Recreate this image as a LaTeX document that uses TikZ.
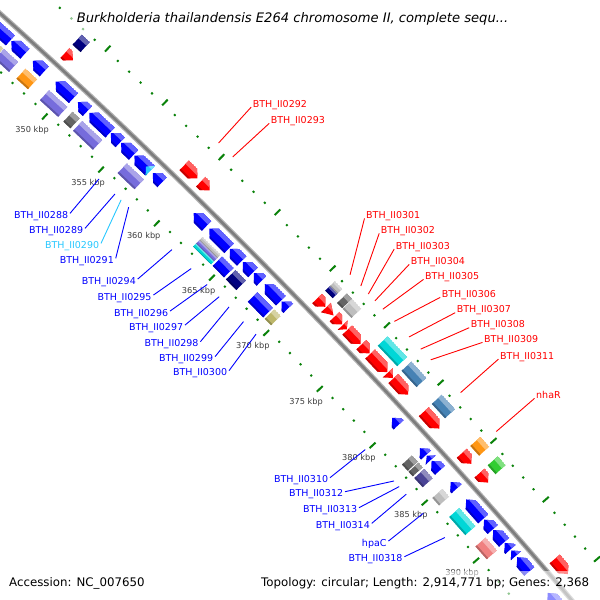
\documentclass[tikz,border=0pt]{standalone}
\usepackage{fontspec}
\setmainfont{DejaVu Sans}
\definecolor{cdsred}{RGB}{255,0,0}
\definecolor{cdsblue}{RGB}{0,0,255}
\definecolor{coglav}{RGB}{118,108,220}
\definecolor{cogorange}{RGB}{255,150,20}
\definecolor{cogdgray}{RGB}{100,100,100}
\definecolor{coglgray}{RGB}{190,190,190}
\definecolor{cognavy}{RGB}{0,0,128}
\definecolor{cogcyan}{RGB}{0,215,215}
\definecolor{cogsteel}{RGB}{70,130,180}
\definecolor{coggreen}{RGB}{50,205,50}
\definecolor{cogkhaki}{RGB}{189,183,107}
\definecolor{cogpink}{RGB}{240,128,128}
\definecolor{cogslate}{RGB}{75,68,150}
\definecolor{tickgreen}{RGB}{10,130,10}
\definecolor{labcyan}{RGB}{40,200,255}
\definecolor{bbedge}{RGB}{178,178,178}
\definecolor{bbcore}{RGB}{125,125,125}
\definecolor{ticktext}{RGB}{60,60,60}

\newcommand{\kSet}[2]{\pgfmathsetmacro{#1}{44.92-0.149*(#2-365)}}
\newcommand{\kShade}[3]{%
  \pgfmathsetmacro\kTA{\kTa+0.05}%
  \pgfmathsetmacro\kTB{\kTb-0.05}%
  \pgfmathsetmacro\kRl{#2-0.36*(#2-#1)}%
  \pgfmathsetmacro\kRd{#1+0.14*(#2-#1)}%
  \fill[#3] (\kTA:#1pt) -- (\kTB:#1pt) -- (\kTB:#2pt) -- (\kTA:#2pt) -- cycle;
  \fill[#3!62!white] (\kTA:\kRl pt) -- (\kTB:\kRl pt) -- (\kTB:#2pt) -- (\kTA:#2pt) -- cycle;
  \fill[#3!78!black] (\kTA:#1pt) -- (\kTB:#1pt) -- (\kTB:\kRd pt) -- (\kTA:\kRd pt) -- cycle;
}
\newcommand{\gbox}[5]{%
  \kSet\kTa{#1}\kSet\kTb{#2}%
  \begin{scope}
    \clip (\kTa:#3pt) -- (\kTb:#3pt) -- (\kTb:#4pt) -- (\kTa:#4pt) -- cycle;
    \kShade{#3}{#4}{#5}%
  \end{scope}}
\newcommand{\garf}[5]{%
  \kSet\kTa{#1}\kSet\kTb{#2}%
  \pgfmathsetmacro\kTh{min(\kTa,\kTb+0.067)}%
  \pgfmathsetmacro\kRm{(#3+#4)/2}%
  \begin{scope}
    \clip (\kTa:#3pt) -- (\kTh:#3pt) -- (\kTb:\kRm pt) -- (\kTh:#4pt) -- (\kTa:#4pt) -- cycle;
    \kShade{#3}{#4}{#5}%
  \end{scope}}
\newcommand{\garr}[5]{%
  \kSet\kTa{#1}\kSet\kTb{#2}%
  \pgfmathsetmacro\kTh{max(\kTb,\kTa-0.067)}%
  \pgfmathsetmacro\kRm{(#3+#4)/2}%
  \begin{scope}
    \clip (\kTa:\kRm pt) -- (\kTh:#4pt) -- (\kTb:#4pt) -- (\kTb:#3pt) -- (\kTh:#3pt) -- cycle;
    \kShade{#3}{#4}{#5}%
  \end{scope}}
\newcommand{\gtrif}[5]{%
  \kSet\kTa{#1}\kSet\kTb{#2}%
  \pgfmathsetmacro\kRm{(#3+#4)/2}%
  \begin{scope}
    \clip (\kTa:#3pt) -- (\kTb:\kRm pt) -- (\kTa:#4pt) -- cycle;
    \kShade{#3}{#4}{#5}%
  \end{scope}}
\newcommand{\gtrir}[5]{%
  \kSet\kTa{#1}\kSet\kTb{#2}%
  \pgfmathsetmacro\kRm{(#3+#4)/2}%
  \begin{scope}
    \clip (\kTa:\kRm pt) -- (\kTb:#4pt) -- (\kTb:#3pt) -- cycle;
    \kShade{#3}{#4}{#5}%
  \end{scope}}
\newcommand{\fwdg}[2]{\garf{#1}{#2}{6007.5}{6021}{cdsred}}
\newcommand{\fwdt}[2]{\gtrif{#1}{#2}{6007.5}{6021}{cdsred}}
\newcommand{\revg}[2]{\garr{#1}{#2}{5980}{5993.5}{cdsblue}}
\newcommand{\revt}[3][cdsblue]{\gtrir{#2}{#3}{5980}{5993.5}{#1}}
\newcommand{\ocog}[3]{\gbox{#1}{#2}{6025.5}{6039}{#3}}
\newcommand{\icog}[3]{\gbox{#1}{#2}{5962.5}{5976}{#3}}
\newcommand{\lend}[3]{\kSet\kTe{#2}\coordinate (#1) at (\kTe:#3pt);}

\tikzset{
  tickmin/.style={draw=tickgreen, line width=2pt},
  tickmaj/.style={draw=tickgreen, line width=2pt},
  ticklab/.style={font={\fontsize{8.2}{9}\selectfont}, text=ticktext, inner sep=0pt},
  labr/.style={font={\fontsize{9.5}{11}\selectfont}, text=cdsred, inner sep=0pt, anchor=base west},
  labb/.style={font={\fontsize{9.5}{11}\selectfont}, text=cdsblue, inner sep=0pt, anchor=base east},
  labc/.style={labb, text=labcyan},
  leadr/.style={draw=cdsred, line width=0.9pt},
  leadb/.style={draw=cdsblue, line width=0.9pt},
  leadc/.style={draw=labcyan, line width=0.9pt},
  fade/.style={fill=white, fill opacity=0.55},
  infotext/.style={font={\fontsize{11.8}{13}\selectfont}, text=black, inner sep=0pt, anchor=base west}
}

\begin{document}
\begin{tikzpicture}[x=1pt,y=1pt]
\useasboundingbox (0,0) rectangle (600,600);
\fill[white] (0,0) rectangle (600,600);
\clip (0,0) rectangle (600,600);

\begin{scope}[shift={(-4003.7,-3881.6)}]
  % ruler rings
  \foreach \k in {338,...,400}{%
    \kSet\kT{\k}%
    \pgfmathtruncatemacro\km{mod(\k,5)}%
    \ifnum\km=0
      \draw[tickmaj] (\kT:6042.3pt) -- (\kT:6050.3pt);
      \draw[tickmaj] (\kT:5957.7pt) -- (\kT:5949.7pt);
    \else
      \draw[tickmin] (\kT:6043pt) -- (\kT:6045pt);
      \draw[tickmin] (\kT:5957.7pt) -- (\kT:5955.7pt);
    \fi
  }
  % backbone
  \draw[line width=5pt, color=bbedge] (48.6:6000pt) arc[start angle=48.6, end angle=40.0, radius=6000pt];
  \draw[line width=2.6pt, color=bbcore] (48.6:6000pt) arc[start angle=48.6, end angle=40.0, radius=6000pt];

  % forward CDS (red)
  \fwdg{348.18}{348.87}
  \fwdg{358.66}{359.85}
  \fwdg{360.15}{360.94}
  \fwdg{370.69}{371.43}
  \fwdt{371.5}{372.2}
  \fwdg{372.3}{373.0}
  \fwdt{373.05}{373.42}
  \fwdg{373.48}{374.72}
  \fwdg{374.78}{375.55}
  \fwdg{375.6}{377.2}
  \fwdt{377.25}{377.72}
  \fwdg{377.76}{379.16}
  \fwdg{380.64}{382.1}
  \fwdg{384.24}{385.15}
  \fwdg{385.94}{386.75}
  \fwdg{393.24}{394.52}

  % reverse CDS (blue)
  \revg{342.0}{345.05}
  \revg{345.12}{346.32}
  \revg{347.0}{348.0}
  \revg{348.98}{350.54}
  \revg{350.93}{351.77}
  \revg{351.93}{353.77}
  \revg{353.84}{354.68}
  \revg{354.75}{355.86}
  \revg{355.93}{357.31}
  \revt[labcyan]{356.95}{357.35}
  \revg{357.56}{358.4}
  \revg{361.24}{362.4}
  \revg{362.65}{364.44}
  \revg{364.5}{365.58}
  \revg{365.69}{366.62}
  \revg{366.69}{367.39}
  \revg{367.69}{369.17}
  \revg{369.24}{369.85}
  \revg{379.55}{380.16}
  \revg{382.2}{382.78}
  \revt{382.85}{383.22}
  \revg{383.3}{384.11}
  \revg{385.13}{385.7}
  \revg{386.63}{388.29}
  \revg{388.36}{389.2}
  \revg{389.25}{390.3}
  \revg{390.36}{390.92}
  \revt{391.0}{391.45}
  \revg{391.58}{392.78}
  \revg{394.6}{396.5}

  % outer COG ring
  \ocog{348.18}{348.87}{cognavy}
  \gbox{370.69}{371.36}{6025.5}{6032.25}{cognavy}
  \gbox{370.69}{371.36}{6032.25}{6039}{coglgray}
  \ocog{371.78}{372.25}{cogdgray}
  \ocog{372.3}{373.1}{coglgray}
  \ocog{375.55}{377.35}{cogcyan}
  \ocog{377.76}{379.16}{cogsteel}
  \ocog{380.62}{381.86}{cogsteel}
  \ocog{384.26}{385.09}{cogorange}
  \ocog{385.92}{386.67}{coggreen}

  % inner COG ring
  \icog{342.0}{345.05}{cogkhaki}
  \icog{345.12}{346.35}{coglav}
  \icog{347.0}{348.0}{cogorange}
  \icog{349.05}{350.64}{coglav}
  \icog{351.1}{351.73}{cogdgray}
  \icog{351.96}{353.74}{coglav}
  \icog{355.93}{357.43}{coglav}
  \gbox{362.72}{364.35}{5962.5}{5967}{cogcyan}
  \gbox{362.72}{364.35}{5967}{5971.5}{coglav}
  \gbox{362.72}{364.35}{5971.5}{5976}{coglgray}
  \icog{364.49}{365.54}{cdsblue}
  \icog{365.72}{366.67}{cognavy}
  \icog{367.73}{369.14}{cdsblue}
  \icog{369.28}{369.86}{cogkhaki}
  \icog{382.2}{382.74}{cogdgray}
  \icog{382.82}{383.22}{cogdgray}
  \icog{383.37}{384.17}{cogslate}
  \icog{385.11}{385.76}{coglgray}
  \icog{386.74}{388.3}{cogcyan}
  \icog{389.29}{390.39}{cogpink}

  % kbp labels
  \foreach \k in {350,355,...,390}{%
    \kSet\kT{\k}%
    \node[ticklab] (kb\k) at (\kT:5935pt) {\k\ kbp};
  }

  % leader end points
  \lend{e292}{359.24}{6054.3}
  \lend{e293}{360.5}{6054.3}
  \lend{e301}{371.06}{6054.3}
  \lend{e302}{372.05}{6054.3}
  \lend{e303}{372.75}{6054.3}
  \lend{e304}{373.35}{6054.3}
  \lend{e305}{374.08}{6054.3}
  \lend{e306}{375.15}{6054.3}
  \lend{e307}{376.51}{6054.3}
  \lend{e308}{377.58}{6054.3}
  \lend{e309}{378.51}{6054.3}
  \lend{e311}{381.33}{6054.3}
  \lend{enha}{384.68}{6054.3}
  \lend{e288}{355.32}{5945.5}
  \lend{e289}{356.74}{5945.5}
  \lend{e290}{357.29}{5945.5}
  \lend{e291}{357.97}{5945.5}
  \lend{e294}{361.89}{5945.5}
  \lend{e295}{363.63}{5945.5}
  \lend{e296}{365.09}{5945.5}
  \lend{e297}{366.2}{5945.5}
  \lend{e298}{367.12}{5945.5}
  \lend{e299}{368.45}{5945.5}
  \lend{e300}{369.6}{5945.5}
  \lend{e310}{379.88}{5945.5}
  \lend{e312}{382.63}{5945.5}
  \lend{e313}{383.13}{5945.5}
  \lend{e314}{383.8}{5945.5}
  \lend{ehpa}{385.45}{5945.5}
  \lend{e318}{387.55}{5945.5}
\end{scope}

% red labels
\node[labr] (l292) at (252.7,492.9) {BTH\_II0292};
\node[labr] (l293) at (270.7,476.6) {BTH\_II0293};
\node[labr] (l301) at (366,381.6) {BTH\_II0301};
\node[labr] (l302) at (380.7,366.6) {BTH\_II0302};
\node[labr] (l303) at (395.7,350.9) {BTH\_II0303};
\node[labr] (l304) at (410.7,335.6) {BTH\_II0304};
\node[labr] (l305) at (425,320.6) {BTH\_II0305};
\node[labr] (l306) at (441.7,302.6) {BTH\_II0306};
\node[labr] (l307) at (456.7,287.3) {BTH\_II0307};
\node[labr] (l308) at (470.7,272.3) {BTH\_II0308};
\node[labr] (l309) at (484,257.6) {BTH\_II0309};
\node[labr] (l311) at (500,240.9) {BTH\_II0311};
\node[labr] (lnha) at (536,201.6) {nhaR};
\foreach \n in {292,293,301,302,303,304,305,306,307,308,309,311,nha}{%
  \draw[leadr] ([xshift=-1.5pt]l\n.base west) -- (e\n);
}

% blue labels
\node[labb] (l288) at (68.3,381.6) {BTH\_II0288};
\node[labb] (l289) at (83.3,366.6) {BTH\_II0289};
\node[labc] (l290) at (99.3,351.6) {BTH\_II0290};
\node[labb] (l291) at (114,336.6) {BTH\_II0291};
\node[labb] (l294) at (136,315.9) {BTH\_II0294};
\node[labb] (l295) at (151.7,299.9) {BTH\_II0295};
\node[labb] (l296) at (168.3,283.9) {BTH\_II0296};
\node[labb] (l297) at (183.3,269.9) {BTH\_II0297};
\node[labb] (l298) at (198.7,253.3) {BTH\_II0298};
\node[labb] (l299) at (213.3,238.3) {BTH\_II0299};
\node[labb] (l300) at (227.3,224.3) {BTH\_II0300};
\node[labb] (l310) at (328.3,117.3) {BTH\_II0310};
\node[labb] (l312) at (343.3,103.3) {BTH\_II0312};
\node[labb] (l313) at (357.3,87.3) {BTH\_II0313};
\node[labb] (l314) at (370,71.6) {BTH\_II0314};
\node[labb] (lhpa) at (386.7,53.9) {hpaC};
\node[labb] (l318) at (402.7,38.3) {BTH\_II0318};
\foreach \n in {288,289,291,294,295,296,297,298,299,300,310,312,313,314,hpa,318}{%
  \draw[leadb] ([shift={(1.7pt,5pt)}]l\n.base east) -- (e\n);
}
\draw[leadc] ([shift={(1.7pt,5pt)}]l290.base east) -- (e290);

% translucent legend backgrounds
\fill[fade] (70,569) rectangle (516,593);
\fill[fade] (4,0) rectangle (150,29);
\fill[fade] (255,0) rectangle (596,29);

\node[inner sep=0pt, anchor=base west, font={\fontsize{13.1}{15}\selectfont\itshape}] (title) at (76.7,577.7) {Burkholderia thailandensis E264 chromosome II, complete sequ...};
\node[infotext] (acc) at (9,13.5) {Accession: NC\_007650};
\node[infotext] (topo) at (261,13.5) {Topology: circular; Length: 2,914,771 bp; Genes: 2,368};
\end{tikzpicture}
\end{document}
